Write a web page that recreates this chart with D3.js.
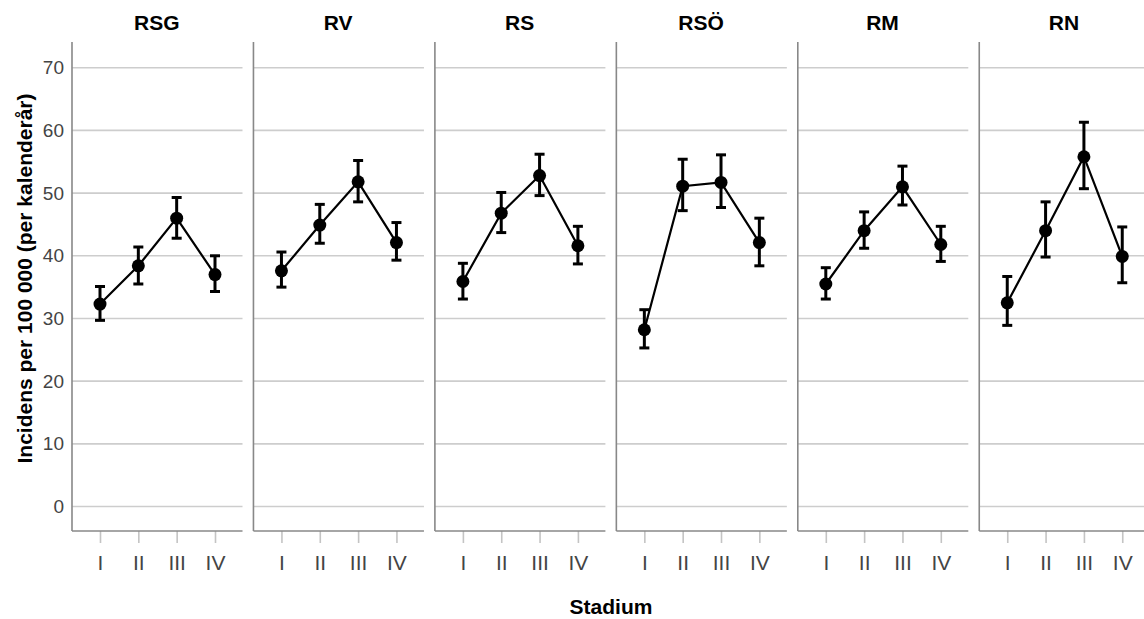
<!DOCTYPE html>
<html lang="sv">
<head>
    <meta charset="UTF-8">
    <title>Incidens per stadium och region</title>
    <script src="https://d3js.org/d3.v7.min.js"></script>
    <style>
        body { margin: 0; background: #fff; }
        text { font-family: "Liberation Sans", Arial, sans-serif; }
    </style>
</head>
<body>
    <div id="chart"></div>
    <script>
        // regioner och stadier
        const regions = ["RSG", "RV", "RS", "RSÖ", "RM", "RN"]
        const stages = ["I", "II", "III", "IV"]
        const yTicks = [0, 10, 20, 30, 40, 50, 60, 70]

        // medelvärde per region (rad) och stadium (kolumn)
        const incidence = [
            [32.3, 38.4, 46.0, 37.0],
            [37.6, 44.9, 51.8, 42.1],
            [35.9, 46.8, 52.8, 41.6],
            [28.2, 51.1, 51.7, 42.1],
            [35.5, 44.0, 51.0, 41.8],
            [32.5, 44.0, 55.8, 39.9]
        ]
        // felstaplar, undre och övre gräns
        const ciLow = [
            [29.7, 35.5, 42.8, 34.3],
            [35.0, 42.0, 48.6, 39.3],
            [33.1, 43.7, 49.6, 38.7],
            [25.3, 47.2, 47.7, 38.4],
            [33.1, 41.2, 48.1, 39.1],
            [28.9, 39.8, 50.7, 35.7]
        ]
        const ciHigh = [
            [35.1, 41.4, 49.3, 40.0],
            [40.6, 48.2, 55.2, 45.3],
            [38.8, 50.1, 56.2, 44.7],
            [31.4, 55.4, 56.1, 46.0],
            [38.1, 47.0, 54.3, 44.7],
            [36.7, 48.6, 61.3, 44.6]
        ]

        const width = 1144, height = 619
        const plotTop = 42, plotBottom = 531
        const left0 = 72, pitch = 181.45, panelW = 170.5

        const svg = d3.select("#chart").append("svg")
            .attr("width", width)
            .attr("height", height)

        const y = d3.scaleLinear().domain([-3.9, 74.1]).range([plotBottom, plotTop])
        const x = d3.scalePoint().domain(stages).range([28, 143])

        regions.forEach((name, i) => {
            const g = svg.append("g").attr("transform", "translate(" + (left0 + i * pitch) + ",0)")

            // rutnät
            g.append("g").selectAll("line").data(yTicks).join("line")
                .attr("x1", 0).attr("x2", panelW)
                .attr("y1", d => y(d)).attr("y2", d => y(d))
                .attr("stroke", "#cdcdcd").attr("stroke-width", 1.6)

            // y-axel
            const ya = g.append("g").call(d3.axisLeft(y).tickValues(yTicks).tickSize(0).tickPadding(8))
            ya.select(".domain").remove()
            ya.selectAll("text")
                .style("font-size", "19px")
                .attr("fill", "#444")
                .style("display", i === 0 ? null : "none")
            g.append("line")
                .attr("x1", 0).attr("x2", 0).attr("y1", plotTop).attr("y2", plotBottom)
                .attr("stroke", "#888").attr("stroke-width", 1.6)

            // x-axel
            const xa = g.append("g").attr("transform", "translate(0," + plotBottom + ")")
                .call(d3.axisBottom(x).tickSize(12).tickPadding(12))
            xa.select(".domain").remove()
            xa.selectAll(".tick line").attr("stroke", "#c4c4c4").attr("stroke-width", 1.6)
            xa.selectAll("text").style("font-size", "21px").attr("fill", "#444")
            g.append("line")
                .attr("x1", 0).attr("x2", panelW).attr("y1", plotBottom).attr("y2", plotBottom)
                .attr("stroke", "#888").attr("stroke-width", 1.6)

            // panelrubrik
            g.append("text")
                .attr("x", panelW / 2 - 0.5).attr("y", 30)
                .attr("text-anchor", "middle")
                .style("font-size", "21px").style("font-weight", "bold")
                .text(name)

            const rows = stages.map((s, j) => ({s: s, m: incidence[i][j], lo: ciLow[i][j], hi: ciHigh[i][j]}))

            // felstaplar
            const eb = g.append("g").attr("stroke", "#000").attr("stroke-width", 3)
            eb.selectAll(".v").data(rows).join("line")
                .attr("x1", d => x(d.s)).attr("x2", d => x(d.s))
                .attr("y1", d => y(d.lo)).attr("y2", d => y(d.hi))
            eb.selectAll(".hi").data(rows).join("line")
                .attr("x1", d => x(d.s) - 5).attr("x2", d => x(d.s) + 5)
                .attr("y1", d => y(d.hi)).attr("y2", d => y(d.hi))
            eb.selectAll(".lo").data(rows).join("line")
                .attr("x1", d => x(d.s) - 5).attr("x2", d => x(d.s) + 5)
                .attr("y1", d => y(d.lo)).attr("y2", d => y(d.lo))

            // linje
            g.append("path").datum(rows)
                .attr("fill", "none").attr("stroke", "#000").attr("stroke-width", 2.2)
                .attr("d", d3.line().x(d => x(d.s)).y(d => y(d.m)))

            // punkter
            g.append("g").selectAll("circle").data(rows).join("circle")
                .attr("cx", d => x(d.s)).attr("cy", d => y(d.m))
                .attr("r", 6.5).attr("fill", "#000")
        })

        // axelrubriker
        svg.append("text")
            .attr("transform", "translate(31.5," + 278.5 + ") rotate(-90)")
            .attr("text-anchor", "middle")
            .style("font-size", "21px").style("font-weight", "bold")
            .text("Incidens per 100 000 (per kalenderår)")

        svg.append("text")
            .attr("x", 611).attr("y", 614)
            .attr("text-anchor", "middle")
            .style("font-size", "21px").style("font-weight", "bold")
            .text("Stadium")
    </script>
</body>
</html>
